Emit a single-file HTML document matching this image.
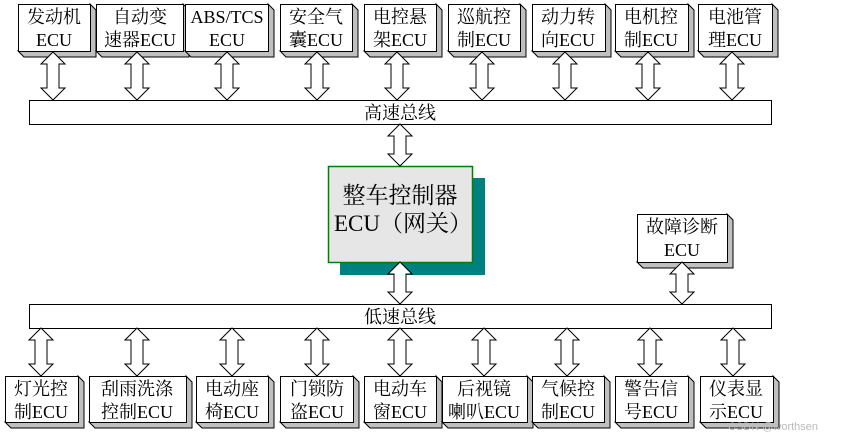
<!DOCTYPE html>
<html><head><meta charset="utf-8">
<style>
html,body{margin:0;padding:0;background:#fff;}
svg{display:block;}
text{font-family:"Liberation Serif","Noto Serif CJK SC",serif;font-size:18px;fill:#000;}
</style></head><body>
<svg width="846" height="442" viewBox="0 0 846 442" xmlns="http://www.w3.org/2000/svg">
<defs>
<polygon id="a48" points="0,0 12,12 6,12 6,36 12,36 0,48 -12,36 -6,36 -6,12 -12,12" fill="#fff" stroke="#000" stroke-width="1"/>
<polygon id="a42" points="0,0 12,12 6,12 6,30 12,30 0,42 -12,30 -6,30 -6,12 -12,12" fill="#fff" stroke="#000" stroke-width="1"/>
</defs>
<g stroke="#000" stroke-width="1">
<g fill="#c0c0c0">
<polygon points="18,51 90,51 90,4 96,10 96,57 24,57"/>
<polygon points="96,51 183,51 183,4 189,10 189,57 102,57"/>
<polygon points="185,51 268,51 268,4 274,10 274,57 191,57"/>
<polygon points="280,51 352,51 352,4 358,10 358,57 286,57"/>
<polygon points="364,51 436,51 436,4 442,10 442,57 370,57"/>
<polygon points="448,51 520,51 520,4 526,10 526,57 454,57"/>
<polygon points="532,51 605,51 605,4 611,10 611,57 538,57"/>
<polygon points="615,51 688,51 688,4 694,10 694,57 621,57"/>
<polygon points="698,51 772,51 772,4 778,10 778,57 704,57"/>
</g>
<g fill="#fff">
<rect x="18.5" y="4.5" width="72" height="47"/>
<rect x="96.5" y="4.5" width="87" height="47"/>
<rect x="185.5" y="4.5" width="83" height="47"/>
<rect x="280.5" y="4.5" width="72" height="47"/>
<rect x="364.5" y="4.5" width="72" height="47"/>
<rect x="448.5" y="4.5" width="72" height="47"/>
<rect x="532.5" y="4.5" width="73" height="47"/>
<rect x="615.5" y="4.5" width="73" height="47"/>
<rect x="698.5" y="4.5" width="74" height="47"/>
</g>
<g fill="#c0c0c0">
<polygon points="5,422 78,422 78,376 84,382 84,428 11,428"/>
<polygon points="89,422 186,422 186,376 192,382 192,428 95,428"/>
<polygon points="196,422 268,422 268,376 274,382 274,428 202,428"/>
<polygon points="280,422 353,422 353,376 359,382 359,428 286,428"/>
<polygon points="364,422 436,422 436,376 442,382 442,428 370,428"/>
<polygon points="442,422 527,422 527,376 533,382 533,428 448,428"/>
<polygon points="532,422 604,422 604,376 610,382 610,428 538,428"/>
<polygon points="615,422 688,422 688,376 694,382 694,428 621,428"/>
<polygon points="700,422 773,422 773,376 779,382 779,428 706,428"/>
</g>
<g fill="#fff">
<rect x="5.5" y="376.5" width="73" height="46"/>
<rect x="89.5" y="376.5" width="97" height="46"/>
<rect x="196.5" y="376.5" width="72" height="46"/>
<rect x="280.5" y="376.5" width="73" height="46"/>
<rect x="364.5" y="376.5" width="72" height="46"/>
<rect x="442.5" y="376.5" width="85" height="46"/>
<rect x="532.5" y="376.5" width="72" height="46"/>
<rect x="615.5" y="376.5" width="73" height="46"/>
<rect x="700.5" y="376.5" width="73" height="46"/>
</g>
<rect x="29.5" y="100.5" width="742" height="24" fill="#fff"/>
<rect x="29.5" y="304.5" width="742" height="24" fill="#fff"/>
<polygon points="637,262 727,262 727,214 733,220 733,268 643,268" fill="#c0c0c0"/>
<rect x="637.5" y="214.5" width="90" height="48" fill="#fff"/>
</g>
<rect x="340" y="178" width="145" height="97" fill="#008080"/>
<rect x="328.5" y="166.5" width="144" height="96" fill="#e6e6e6" stroke="#008000" stroke-width="1.5"/>
<use href="#a48" x="53" y="52"/><use href="#a48" x="137" y="52"/><use href="#a48" x="227" y="52"/>
<use href="#a48" x="317" y="52"/><use href="#a48" x="397" y="52"/><use href="#a48" x="482" y="52"/>
<use href="#a48" x="565" y="52"/><use href="#a48" x="648" y="52"/><use href="#a48" x="732" y="52"/>
<use href="#a48" x="41" y="328"/><use href="#a48" x="137" y="328"/><use href="#a48" x="232" y="328"/>
<use href="#a48" x="317" y="328"/><use href="#a48" x="400" y="328"/><use href="#a48" x="484" y="328"/>
<use href="#a48" x="567" y="328"/><use href="#a48" x="650" y="328"/><use href="#a48" x="733" y="328"/>
<use href="#a42" x="400" y="124"/><use href="#a42" x="400" y="262"/><use href="#a42" x="682" y="262"/>
<g text-anchor="middle">
<text x="54" y="23">发动机</text><text x="54" y="46">ECU</text>
<text x="140" y="23">自动变</text><text x="140" y="46">速器ECU</text>
<text x="227" y="23">ABS/TCS</text><text x="227" y="46">ECU</text>
<text x="316" y="23">安全气</text><text x="316" y="46">囊ECU</text>
<text x="400" y="23">电控悬</text><text x="400" y="46">架ECU</text>
<text x="484" y="23">巡航控</text><text x="484" y="46">制ECU</text>
<text x="568" y="23">动力转</text><text x="568" y="46">向ECU</text>
<text x="651" y="23">电机控</text><text x="651" y="46">制ECU</text>
<text x="735" y="23">电池管</text><text x="735" y="46">理ECU</text>
<text x="400" y="119">高速总线</text>
<text x="400" y="323">低速总线</text>
<text x="682" y="233">故障诊断</text><text x="682" y="256">ECU</text>
<text x="41" y="395">灯光控</text><text x="41" y="418">制ECU</text>
<text x="137" y="395">刮雨洗涤</text><text x="137" y="418">控制ECU</text>
<text x="232" y="395">电动座</text><text x="232" y="418">椅ECU</text>
<text x="317" y="395">门锁防</text><text x="317" y="418">盗ECU</text>
<text x="400" y="395">电动车</text><text x="400" y="418">窗ECU</text>
<text x="484" y="395">后视镜</text><text x="484" y="418">喇叭ECU</text>
<text x="568" y="395">气候控</text><text x="568" y="418">制ECU</text>
<text x="651" y="395">警告信</text><text x="651" y="418">号ECU</text>
<text x="736" y="395">仪表显</text><text x="736" y="418">示ECU</text>
<text x="400" y="203" style="font-size:23px">整车控制器</text>
</g>
<text x="334" y="231" style="font-size:23px">ECU（网关）</text>
<text x="728" y="430" style="font-family:'Liberation Sans',sans-serif;font-size:11px;fill:#bbb">CSDN @worthsen</text>
</svg>
</body></html>
